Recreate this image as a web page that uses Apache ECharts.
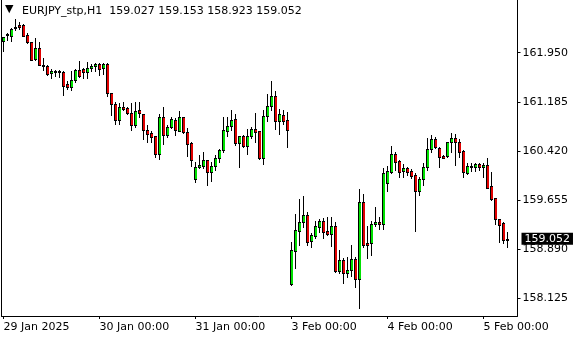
<!DOCTYPE html>
<html>
<head>
<meta charset="utf-8">
<script src="https://cdn.jsdelivr.net/npm/echarts@6/dist/echarts.min.js"></script>
<style>
html,body{margin:0;padding:0;background:#fff;}
#chart{width:580px;height:340px;}
</style>
</head>
<body>
<div id="chart"></div>
<script>
// ---- data (EURJPY_stp, H1) ----
const symbolTitle = 'EURJPY_stp,H1';
const days = ['29 Jan', '30 Jan', '31 Jan', '3 Feb', '4 Feb', '5 Feb'];
const barsPerDay = [24, 24, 24, 24, 24, 7];
const xTickLabels = ['29 Jan 2025', '30 Jan 00:00', '31 Jan 00:00', '3 Feb 00:00', '4 Feb 00:00', '5 Feb 00:00'];
const yTicks = [158.125, 158.890, 159.655, 160.420, 161.185, 161.950];

const open = [
162.137,162.221,162.218,162.330,162.377,162.377,162.231,162.112,161.848,162.019,
161.759,161.743,161.634,161.650,161.658,161.645,161.463,161.412,161.525,161.681,
161.692,161.655,161.708,161.739,161.775,161.708,161.775,161.318,161.147,160.902,
161.110,161.084,161.006,160.824,161.058,160.990,160.746,160.695,160.653,160.373,
160.944,160.663,160.788,160.902,160.736,160.944,160.711,160.539,159.979,160.170,
160.190,160.274,160.087,160.185,160.305,160.430,160.736,160.809,160.918,160.539,
160.653,160.502,160.658,160.762,160.731,160.315,160.960,161.120,161.276,160.887,
160.980,160.902,158.344,158.867,159.178,159.309,159.422,159.022,159.090,159.241,
159.329,159.174,159.122,159.251,158.555,158.722,158.514,158.561,158.733,158.421,
159.630,158.982,158.982,159.277,159.308,159.277,159.916,160.097,160.372,160.264,
160.113,160.150,160.108,160.045,159.801,159.979,160.165,160.446,160.606,160.461,
160.341,160.341,160.555,160.617,160.555,160.419,160.082,160.175,160.175,160.217,
160.165,160.201,159.875,159.683,159.356,159.293,159.027];
const close = [
162.190,162.237,162.327,162.355,162.355,162.218,162.112,161.837,162.019,161.759,
161.743,161.619,161.665,161.658,161.650,161.432,161.421,161.525,161.681,161.587,
161.655,161.708,161.743,161.770,161.697,161.775,161.318,161.147,160.902,161.100,
161.074,161.006,160.824,161.047,161.006,160.746,160.684,160.642,160.373,160.944,
160.663,160.788,160.913,160.746,160.944,160.711,160.533,160.284,160.165,160.201,
160.274,160.087,160.185,160.305,160.430,160.746,160.809,160.902,160.539,160.648,
160.502,160.658,160.757,160.720,160.315,160.964,161.120,161.276,160.882,160.991,
160.891,160.741,158.877,159.189,159.319,159.422,159.007,159.111,159.251,159.334,
159.163,159.122,159.251,158.555,158.722,158.514,158.566,158.733,158.421,159.630,
158.956,158.956,159.277,159.308,159.277,160.081,160.108,160.372,160.253,160.097,
160.150,160.097,160.035,159.801,159.983,160.165,160.446,160.602,160.477,160.321,
160.315,160.555,160.617,160.555,160.409,160.087,160.185,160.191,160.217,160.175,
160.201,159.848,159.672,159.356,159.267,159.030,159.052];
const high = [
162.199,162.262,162.335,162.475,162.421,162.405,162.252,162.121,162.175,162.117,
161.863,161.754,161.692,161.681,161.676,161.661,161.505,161.661,161.697,161.821,
161.708,161.806,161.775,161.795,161.795,161.795,161.795,161.327,161.183,161.163,
161.188,161.110,161.168,161.183,161.183,160.990,160.824,160.736,160.653,160.996,
161.110,160.824,160.954,160.929,161.042,160.944,160.773,160.565,160.253,160.357,
160.399,160.279,160.243,160.357,160.451,160.949,160.954,161.058,160.991,160.658,
160.668,160.762,160.798,161.011,160.731,161.058,161.307,161.510,161.359,161.069,
161.058,161.032,159.007,159.438,159.672,159.718,159.474,159.137,159.329,159.360,
159.381,159.387,159.397,159.318,158.877,158.753,158.774,158.956,158.774,159.822,
159.749,159.251,159.329,159.542,159.387,160.149,160.186,160.497,160.408,160.279,
160.217,160.165,160.134,160.071,160.009,160.227,160.617,160.669,160.642,160.477,
160.357,160.565,160.704,160.684,160.601,160.435,160.237,160.237,160.237,160.237,
160.237,160.305,160.097,159.683,159.356,159.318,159.153];
const low = [
161.981,162.148,162.125,162.304,162.319,162.210,162.097,161.832,161.837,161.754,
161.681,161.603,161.556,161.592,161.567,161.299,161.390,161.369,161.499,161.576,
161.556,161.556,161.670,161.670,161.603,161.619,161.276,160.980,160.835,160.840,
161.058,160.990,160.746,160.798,160.944,160.601,160.565,160.565,160.331,160.290,
160.528,160.632,160.773,160.668,160.731,160.700,160.346,160.191,159.932,160.160,
160.149,159.890,159.952,160.123,160.253,160.409,160.658,160.746,160.513,160.175,
160.487,160.368,160.617,160.565,160.290,160.212,160.891,161.058,160.762,160.689,
160.835,160.476,158.330,158.593,158.956,159.231,158.956,158.929,159.059,159.163,
159.072,159.111,158.945,158.530,158.512,158.371,158.462,158.468,158.305,157.970,
158.929,158.748,158.800,159.251,159.205,159.205,159.801,160.081,160.123,160.010,
160.019,160.045,159.994,159.173,159.734,159.890,160.123,160.409,160.461,160.175,
160.305,160.321,160.409,160.201,160.331,160.010,160.056,160.113,160.113,160.123,
160.019,159.839,159.656,159.283,159.007,158.982,158.923];

// ---- build categories / series ----
const categories = [];
const dayStart = [];
days.forEach((d, k) => {
  dayStart.push(categories.length);
  for (let h = 0; h < barsPerDay[k]; h++) {
    categories.push(d + ' ' + String(h).padStart(2, '0') + ':00');
  }
});
categories.push('', ''); // empty right shift
const candles = open.map((o, i) => [i, o, close[i], low[i], high[i]]);
const n = open.length;
const last = n - 1;
const headerText = symbolTitle + '  ' + [open[last], high[last], low[last], close[last]].map(v => v.toFixed(3)).join(' ');

const yMin = 157.850, yMax = 162.771;
const FONT = 'DejaVu Sans';
const BULL = '#00e000', BEAR = '#e00000', EDGE = '#000000';

function renderCandle(params, api) {
  const i = api.value(0);
  const o = api.value(1), c = api.value(2), l = api.value(3), h = api.value(4);
  const pO = api.coord([i, o]);
  const x = Math.floor(pO[0]);
  const yO = Math.round(pO[1]);
  const yC = Math.round(api.coord([i, c])[1]);
  const yL = Math.round(api.coord([i, l])[1]);
  const yH = Math.round(api.coord([i, h])[1]);
  const top = Math.min(yO, yC), bot = Math.max(yO, yC);
  const children = [
    {type: 'rect', shape: {x: x, y: yH, width: 1, height: Math.max(yL - yH + 1, 1)}, style: {fill: EDGE}},
    {type: 'rect', shape: {x: x - 1, y: top, width: 3, height: Math.max(bot - top + 1, 1)}, style: {fill: EDGE}}
  ];
  if (bot - top >= 2) {
    children.push({type: 'rect', shape: {x: x, y: top + 1, width: 2, height: bot - top - 1},
      style: {fill: c >= o ? BULL : BEAR}});
  }
  return {type: 'group', children: children};
}

const chart = echarts.init(document.getElementById('chart'), null, {renderer: 'canvas'});
chart.setOption({
  animation: false,
  backgroundColor: '#ffffff',
  title: [
    {text: '▼', left: 5, top: 4, padding: 0, textStyle: {fontFamily: FONT, fontSize: 11, fontWeight: 'normal', color: '#000'}},
    {text: headerText, left: 22, top: 6, padding: 0, textStyle: {fontFamily: FONT, fontSize: 11, fontWeight: 'normal', color: '#000'}}
  ],
  grid: {left: 1.5, top: 0, width: 4 * categories.length, bottom: 24, containLabel: false},
  xAxis: {
    type: 'category',
    data: categories,
    boundaryGap: true,
    axisLine: {show: true, lineStyle: {color: '#000', width: 1}},
    axisTick: {show: true, alignWithLabel: true, length: 3, lineStyle: {color: '#000'},
      interval: (idx) => dayStart.indexOf(idx) >= 0},
    axisLabel: {show: true, interval: (idx) => dayStart.indexOf(idx) >= 0, align: 'left', margin: 6,
      color: '#000', fontFamily: FONT, fontSize: 11,
      formatter: (v, idx) => xTickLabels[dayStart.indexOf(idx)] || ''},
    splitLine: {show: false}
  },
  yAxis: [
    {
      type: 'value', position: 'right', min: yMin, max: yMax, scale: true,
      axisLine: {show: true, lineStyle: {color: '#000'}},
      axisTick: {show: true, length: 3, lineStyle: {color: '#000'}, customValues: yTicks},
      axisLabel: {show: true, customValues: yTicks, margin: 5, color: '#000', fontFamily: FONT, fontSize: 11,
        formatter: (v) => v.toFixed(3)},
      splitLine: {show: false}
    },
    {
      type: 'value', position: 'right', min: yMin, max: yMax, scale: true,
      axisLine: {show: false}, axisTick: {show: false}, splitLine: {show: false},
      axisLabel: {show: true, customValues: [close[last]], margin: 4, color: '#fff', fontFamily: FONT, fontSize: 11,
        backgroundColor: '#000', padding: [1, 3, 0, 3], formatter: (v) => v.toFixed(3)}
    },
    {
      type: 'value', position: 'left', min: yMin, max: yMax, scale: true,
      axisLine: {show: true, lineStyle: {color: '#000'}}, axisTick: {show: false},
      axisLabel: {show: false}, splitLine: {show: false}
    }
  ],
  series: [{
    type: 'custom',
    renderItem: renderCandle,
    data: candles,
    encode: {x: 0, y: [1, 2, 3, 4]},
    clip: true
  }]
});
</script>
</body>
</html>
